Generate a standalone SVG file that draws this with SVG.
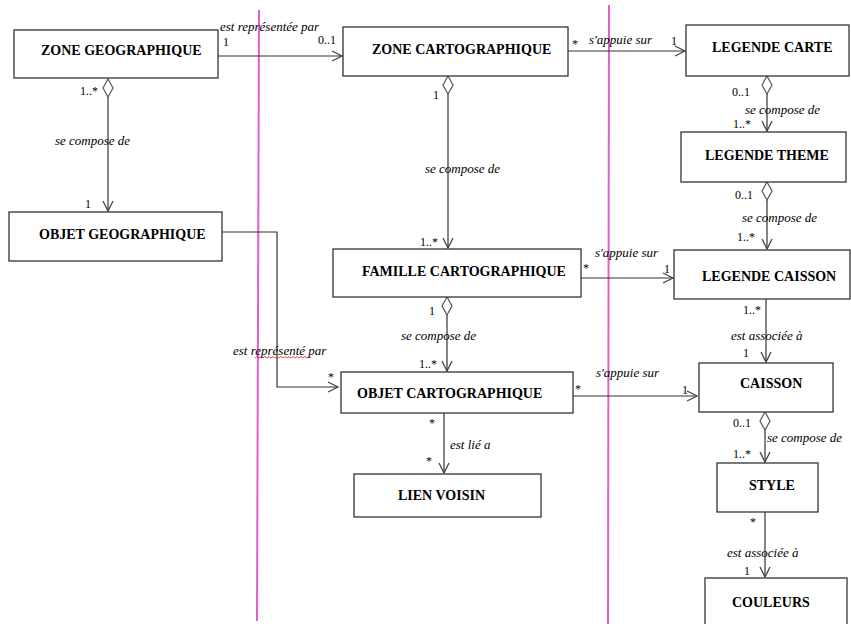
<svg xmlns="http://www.w3.org/2000/svg" xmlns:xlink="http://www.w3.org/1999/xlink" width="851" height="624" viewBox="0 0 851 624">
<style>
text{font-family:"Liberation Serif","DejaVu Serif",serif}
.box{fill:#fff;stroke:#333;stroke-width:1.3}
.nm{font-weight:bold;font-size:14px;fill:#000}
.lb{font-style:italic;font-size:13px;fill:#000}
.mu{font-size:12px;fill:#000}
.h{fill:none;stroke:#333;stroke-width:1.2}
.v{fill:none;stroke:#666;stroke-width:1.6}
.dia{fill:#fff;stroke:#555;stroke-width:1.2}
.sep{stroke:#e060c8;stroke-width:2;fill:none}
.sq{fill:none;stroke:#e02020;stroke-width:0.8}
</style>
<defs>
<marker id="arr" markerUnits="userSpaceOnUse" markerWidth="14" markerHeight="14" refX="11" refY="6" orient="auto">
<path d="M1,1 L11,6 L1,11" fill="none" stroke="#444" stroke-width="1.3"/>
</marker>
<path id="dm" class="dia" d="M0,0 L5,9 L0,18 L-5,9 Z"/>
</defs>
<rect width="851" height="624" fill="#fff"/>

<g id="separators">
<line class="sep" x1="259" y1="10" x2="257" y2="621"/>
<line class="sep" x1="609" y1="5" x2="608" y2="624"/>
</g>

<g id="connectors">
<line class="h" x1="218" y1="56" x2="342" y2="56" marker-end="url(#arr)"/>
<line class="h" x1="568" y1="51" x2="685" y2="51" marker-end="url(#arr)"/>
<line class="v" x1="108" y1="97" x2="108" y2="211" marker-end="url(#arr)"/>
<line class="v" x1="448" y1="94" x2="448" y2="248" marker-end="url(#arr)"/>
<line class="v" x1="767" y1="94" x2="767" y2="131" marker-end="url(#arr)"/>
<line class="v" x1="767" y1="200" x2="767" y2="249" marker-end="url(#arr)"/>
<line class="h" x1="581" y1="278" x2="673" y2="278" marker-end="url(#arr)"/>
<line class="v" x1="447" y1="315" x2="447" y2="371" marker-end="url(#arr)"/>
<polyline class="h" points="222,232 277,232 277,387 338,387" marker-end="url(#arr)"/>
<line class="v" x1="766" y1="299" x2="766" y2="362" marker-end="url(#arr)"/>
<line class="h" x1="573" y1="396" x2="697" y2="396" marker-end="url(#arr)"/>
<line class="v" x1="765" y1="429" x2="765" y2="462" marker-end="url(#arr)"/>
<line class="v" x1="444" y1="413" x2="444" y2="473" marker-end="url(#arr)"/>
<line class="v" x1="765" y1="512" x2="765" y2="577" marker-end="url(#arr)"/>
<use xlink:href="#dm" href="#dm" x="108" y="79"/>
<use xlink:href="#dm" href="#dm" x="448" y="76"/>
<use xlink:href="#dm" href="#dm" x="767" y="76"/>
<use xlink:href="#dm" href="#dm" x="767" y="182"/>
<use xlink:href="#dm" href="#dm" x="447" y="297"/>
<use xlink:href="#dm" href="#dm" x="765" y="412"/>

<text class="lb" x="220" y="31">est représentée par</text>
<text class="mu" x="223" y="46">1</text>
<text class="mu" x="318" y="44">0..1</text>
<text class="mu" x="572" y="48">*</text>
<text class="lb" x="589" y="44">s'appuie sur</text>
<text class="mu" x="671" y="45">1</text>
<text class="mu" x="80" y="95">1..*</text>
<text class="lb" x="55" y="145">se compose de</text>
<text class="mu" x="85" y="208">1</text>
<text class="mu" x="433" y="99">1</text>
<text class="lb" x="425" y="173">se compose de</text>
<text class="mu" x="420" y="246">1..*</text>
<text class="mu" x="583" y="272">*</text>
<text class="lb" x="595" y="257">s'appuie sur</text>
<text class="mu" x="664" y="273">1</text>
<text class="mu" x="429" y="315">1</text>
<text class="lb" x="401" y="340">se compose de</text>
<text class="mu" x="419" y="368">1..*</text>
<text class="lb" x="233" y="355">est représenté par</text>
<path class="sq" d="M255,358 l2,-1.5 l2,1.5 l2,-1.5 l2,1.5 l2,-1.5 l2,1.5 l2,-1.5 l2,1.5 l2,-1.5 l2,1.5 l2,-1.5 l2,1.5 l2,-1.5 l2,1.5 l2,-1.5 l2,1.5 l2,-1.5 l2,1.5 l2,-1.5 l2,1.5 l2,-1.5 l2,1.5 l2,-1.5 l2,1.5 l2,-1.5 l2,1.5 l2,-1.5 l2,1.5"/>
<text class="mu" x="328" y="381">*</text>
<text class="mu" x="575" y="393">*</text>
<text class="lb" x="596" y="377">s'appuie sur</text>
<text class="mu" x="682" y="394">1</text>
<text class="mu" x="429" y="427">*</text>
<text class="lb" x="450" y="449">est lié a</text>
<text class="mu" x="426" y="465">*</text>
<text class="mu" x="732" y="96">0..1</text>
<text class="lb" x="745" y="114">se compose de</text>
<text class="mu" x="733" y="128">1..*</text>
<text class="mu" x="735" y="199">0..1</text>
<text class="lb" x="742" y="222">se compose de</text>
<text class="mu" x="737" y="241">1..*</text>
<text class="mu" x="743" y="314">1..*</text>
<text class="lb" x="731" y="340">est associée à</text>
<text class="mu" x="743" y="357">1</text>
<text class="mu" x="733" y="427">0..1</text>
<text class="lb" x="767" y="442">se compose de</text>
<text class="mu" x="733" y="458">1..*</text>
<text class="mu" x="750" y="526">*</text>
<text class="lb" x="727" y="557">est associée à</text>
<text class="mu" x="744" y="575">1</text>
</g>

<g id="zone-geographique"><rect class="box" x="14" y="30" width="204" height="48"/><text class="nm" x="41" y="55">ZONE GEOGRAPHIQUE</text></g>
<g id="zone-cartographique"><rect class="box" x="343" y="27" width="225" height="49"/><text class="nm" x="372" y="54">ZONE CARTOGRAPHIQUE</text></g>
<g id="legende-carte"><rect class="box" x="686" y="25" width="163" height="51"/><text class="nm" x="712" y="52">LEGENDE CARTE</text></g>
<g id="legende-theme"><rect class="box" x="681" y="132" width="165" height="50"/><text class="nm" x="705" y="160">LEGENDE THEME</text></g>
<g id="objet-geographique"><rect class="box" x="9" y="212" width="213" height="49"/><text class="nm" x="39" y="239">OBJET GEOGRAPHIQUE</text></g>
<g id="famille-cartographique"><rect class="box" x="333" y="249" width="248" height="48"/><text class="nm" x="362" y="276">FAMILLE CARTOGRAPHIQUE</text></g>
<g id="legende-caisson"><rect class="box" x="674" y="250" width="176" height="49"/><text class="nm" x="702" y="281">LEGENDE CAISSON</text></g>
<g id="objet-cartographique"><rect class="box" x="341" y="372" width="232" height="41"/><text class="nm" x="357" y="398">OBJET CARTOGRAPHIQUE</text></g>
<g id="caisson"><rect class="box" x="699" y="363" width="134" height="49"/><text class="nm" x="740" y="388">CAISSON</text></g>
<g id="lien-voisin"><rect class="box" x="354" y="474" width="187" height="43"/><text class="nm" x="398" y="500">LIEN VOISIN</text></g>
<g id="style"><rect class="box" x="717" y="463" width="101" height="49"/><text class="nm" x="749" y="490">STYLE</text></g>
<g id="couleurs"><rect class="box" x="705" y="578" width="142" height="52"/><text class="nm" x="732" y="607">COULEURS</text></g>
</svg>
